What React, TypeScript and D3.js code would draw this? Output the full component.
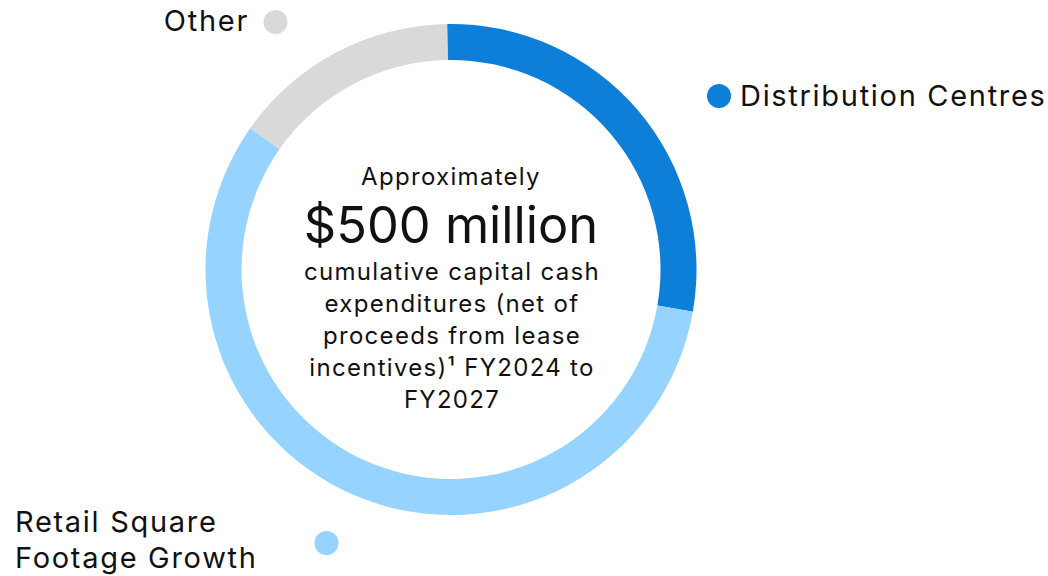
import React, { useEffect, useRef } from 'react';
import * as d3 from 'd3';

// Capital spend split, FY2024–FY2027 (share of ~$500M)
const categories = ['Distribution Centres', 'Retail Square Footage Growth', 'Other'];
const shares = [28, 57, 15];
const colors = ['#0D7FD9', '#96D3FF', '#D9D9D9'];

const headline = 'Approximately';
const amount = '$500 million';
const centerLines = [
  'cumulative capital cash',
  'expenditures (net of',
  'proceeds from lease',
  'incentives)¹ FY2024 to',
  'FY2027',
];

const FONT = 'Inter, "Noto Sans", sans-serif';

export default function App() {
  const svgRef = useRef<SVGSVGElement | null>(null);

  useEffect(() => {
    const width = 1048;
    const height = 576;
    const cx = 451;
    const cy = 269.5;
    const outerR = 245.5;
    const innerR = 209.5;

    const svg = d3.select(svgRef.current).attr('width', width).attr('height', height);
    svg.selectAll('*').remove();

    const data = categories.map((c, i) => ({ name: c, value: shares[i], color: colors[i] }));

    // ring starts just left of 12 o'clock
    const offset = (-0.9 * Math.PI) / 180;
    const pie = d3.pie<any>().sort(null).value(d => d.value)
      .startAngle(offset).endAngle(offset + Math.PI * 2);
    const arc = d3.arc<any>().innerRadius(innerR).outerRadius(outerR);

    const g = svg.append('g').attr('transform', `translate(${cx},${cy})`);
    g.selectAll('path').data(pie(data)).join('path')
      .attr('d', arc).attr('fill', d => d.data.color);

    // centre text
    const ct = g.append('g').attr('font-family', FONT).attr('fill', '#111').attr('text-anchor', 'middle');
    ct.append('text').attr('x', 0).attr('y', 184.5 - cy)
      .attr('font-size', 24).attr('letter-spacing', 1.3).text(headline);
    ct.append('text').attr('x', 0).attr('y', 243 - cy)
      .attr('font-size', 50.5).text(amount);
    centerLines.forEach((t, i) => {
      ct.append('text').attr('x', 1).attr('y', 280 + i * 32 - cy)
        .attr('font-size', 24).attr('letter-spacing', 1.3).text(t);
    });

    // legend labels with dots
    const lab = svg.append('g').attr('font-family', FONT).attr('font-size', 29)
      .attr('letter-spacing', 1.7).attr('fill', '#111');

    svg.append('circle').attr('cx', 719).attr('cy', 96).attr('r', 12).attr('fill', colors[0]);
    lab.append('text').attr('x', 740).attr('y', 106).text(categories[0]);

    svg.append('circle').attr('cx', 275.5).attr('cy', 22).attr('r', 12).attr('fill', colors[2]);
    lab.append('text').attr('x', 249).attr('y', 31).attr('text-anchor', 'end').text(categories[2]);

    svg.append('circle').attr('cx', 326.5).attr('cy', 543).attr('r', 12).attr('fill', colors[1]);
    lab.append('text').attr('x', 15).attr('y', 531.5).text('Retail Square');
    lab.append('text').attr('x', 15).attr('y', 568).text('Footage Growth');
  }, []);

  return (
    <div style={{ position: 'absolute', left: 0, top: 0, width: 1048, height: 576, background: '#fff' }}>
      <svg ref={svgRef} style={{ display: 'block' }} />
    </div>
  );
}
